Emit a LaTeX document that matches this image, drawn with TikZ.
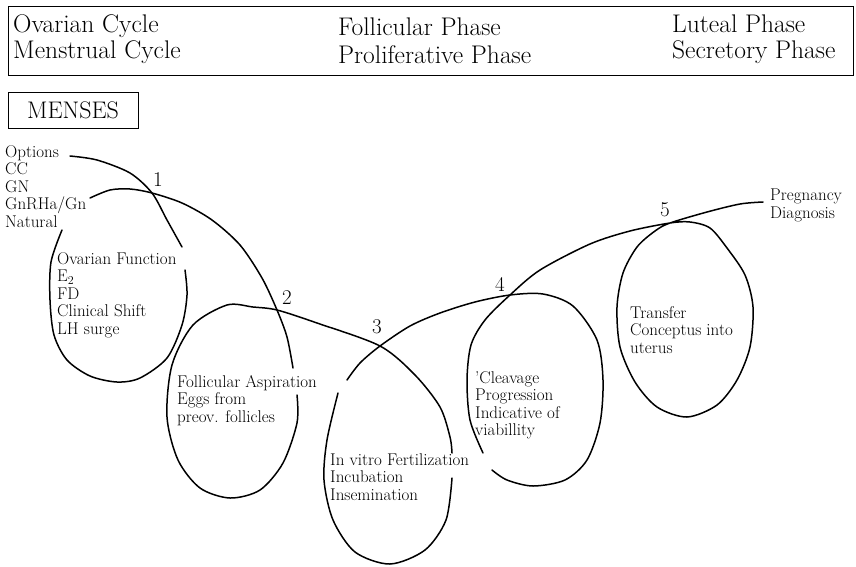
\documentclass[tikz,border=0pt]{standalone}
\tikzset{
    coil/.style={line width=1.5pt, line join=round, line cap=round},
    looptext/.style={anchor=north west, inner sep=0pt, align=left, font=\fontsize{17}{17.5}\selectfont},
    headtext/.style={anchor=base west, inner sep=0pt, font=\fontsize{25.5}{28}\selectfont},
    crossnum/.style={inner sep=0pt, font=\fontsize{21}{21}\selectfont},
}
\begin{document}
\begin{tikzpicture}[x=1pt,y=-1pt]
        \useasboundingbox (0,0) rectangle (856,566);

        \draw[line width=0.9pt] (8,6) rectangle (853,75);
        \node[headtext] (OC) at (13,32) {Ovarian Cycle};
        \node[headtext] (MC) at (13,58) {Menstrual Cycle};
        \node[headtext] (FP) at (338,35) {Follicular Phase};
        \node[headtext] (PP) at (338,63) {Proliferative Phase};
        \node[headtext] (LP) at (672,32) {Luteal Phase};
        \node[headtext] (SP) at (672,58) {Secretory Phase};

        \node[draw, line width=0.9pt, minimum width=130pt, minimum height=36pt, inner sep=0pt,
              font=\fontsize{24}{24}\selectfont] (MEN) at (73,110) {MENSES};

        \coordinate (X1) at (152,193);
        \coordinate (X2) at (277,310);
        \coordinate (X3) at (380,346);
        \coordinate (X4) at (510,295);
        \coordinate (X5) at (670,223);

        \draw[coil] plot[smooth] coordinates {(70,156) (97,160) (130,173) (X1) (167,220) (182,247)};
        \draw[coil] plot[smooth] coordinates {(185,270) (187,295) (182,325) (167,358) (140,378) (117,382)
            (90,376) (67,360) (54,335) (50,300) (51,262) (62,230)};
        \draw[coil] plot[smooth] coordinates {(90,198) (110,190) (130,189) (X1) (182,203) (212,220)
            (240,245) (262,278) (X2) (287,337) (293,368)};
        \draw[coil] plot[smooth] coordinates {(297,395) (297,423) (283,463) (260,490) (230,498) (200,488)
            (178,460) (167,417) (172,365) (193,325) (227,305) (253,307) (X2) (317,323) (X3)
            (415,375) (440,407) (450,437) (452,453)};
        \draw[coil] plot[smooth] coordinates {(452,478) (446,520) (425,550) (390,564) (355,552) (333,520)
            (324,480) (327,440) (338,393)};
        \draw[coil] plot[smooth] coordinates {(347,380) (360,363) (X3) (410,326) (440,313) (475,302) (X4)
            (543,294) (573,306) (597,340) (603,380) (600,423) (587,460) (565,480) (533,486) (507,480) (492,470)};
        \draw[coil] plot[smooth] coordinates {(483,453) (470,420) (467,380) (471,345) (485,320) (X4)
            (540,270) (590,244) (630,231) (X5) (690,222) (710,228) (727,248) (745,275) (753,307)
            (750,347) (737,380) (717,405) (687,417) (657,407) (635,382) (620,347) (617,307)
            (623,273) (637,247) (655,231) (X5) (707,212) (740,204) (763,202)};

        \node[crossnum] (N1) at (158,180) {1};
        \node[crossnum] (N2) at (287,298) {2};
        \node[crossnum] (N3) at (377,327) {3};
        \node[crossnum] (N4) at (500,284) {4};
        \node[crossnum] (N5) at (665,210) {5};

        \node[looptext] (OPT) at (5,145) {Options\\CC\\GN\\GnRHa/Gn\\Natural};
        \node[looptext] (T1) at (57,252) {Ovarian Function\\E$_2$\\FD\\Clinical Shift\\LH surge};
        \node[looptext] (T2) at (177,375) {Follicular Aspiration\\Eggs from\\preov. follicles};
        \node[looptext] (T3) at (330,453) {In vitro Fertilization\\Incubation\\Insemination};
        \node[looptext] (T4) at (475,371) {'Cleavage\\Progression\\Indicative of\\viabillity};
        \node[looptext] (T5) at (630,306) {Transfer\\Conceptus into\\uterus};
        \node[looptext] (PD) at (770,189) {Pregnancy\\Diagnosis};

    \end{tikzpicture}
\end{document}
